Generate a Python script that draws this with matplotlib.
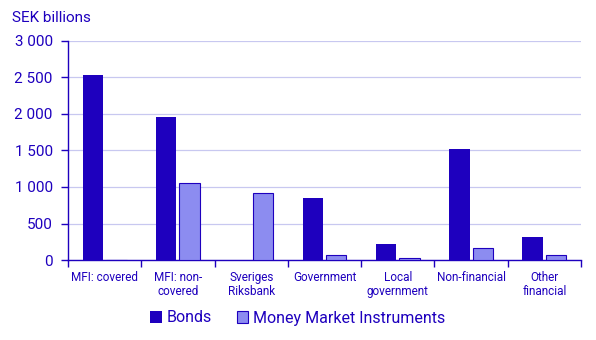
import numpy as np
import matplotlib.pyplot as plt
from matplotlib.ticker import FuncFormatter

plt.rcParams['font.family'] = ['Roboto', 'DejaVu Sans']

categories = ["MFI: covered", "MFI: non-\ncovered", "Sveriges\nRiksbank", "Government",
              "Local\ngovernment", "Non-financial", "Other\nfinancial"]
bonds = [2534, 1959, 0, 849, 219, 1521, 315]
mmi = [0, 1055, 918, 68, 27, 164, 68]

dark = "#1E00BE"
light = "#8C8CF0"
txt = "#1E00BE"

fig = plt.figure(figsize=(5.96, 3.40), dpi=100)
ax = fig.add_axes([68/596, 1-260/340, 513/596, 219/340])

x = np.arange(len(categories))
w = 0.28
ax.bar(x - 0.16, bonds, w, color=dark, label="Bonds", zorder=3)
ax.bar(x + 0.16, mmi, w, color=light, edgecolor=dark, linewidth=0.8,
       label="Money Market Instruments", zorder=3)

ax.set_xlim(-0.5, len(categories) - 0.5)
ax.set_ylim(0, 3000)
ax.set_yticks(np.arange(0, 3001, 500))
ax.yaxis.set_major_formatter(FuncFormatter(lambda v, p: f"{int(v):,}".replace(",", " ")))
ax.grid(axis='y', color="#C8C8F0", linewidth=0.9, zorder=0)

ax.set_xticks(x)
ax.set_xticklabels(categories, fontsize=8.5, color=txt, linespacing=1.05)
ax.set_xticks(np.arange(-0.5, len(categories)), minor=True)
ax.tick_params(axis='x', which='major', length=0, pad=8)
ax.tick_params(axis='x', which='minor', length=5, color=dark, width=1)
ax.tick_params(axis='y', length=5, color=dark, width=1, labelsize=11, labelcolor=txt, pad=6)

for s in ['top', 'right']:
    ax.spines[s].set_visible(False)
for s in ['left', 'bottom']:
    ax.spines[s].set_color(dark)
    ax.spines[s].set_linewidth(1)

fig.text(12/596, 1-18/340, "SEK billions", fontsize=11, color=txt, va='center')

fig.legend(loc='center', bbox_to_anchor=(0.5, 1-318/340), ncol=2, frameon=False,
           fontsize=11.5, labelcolor=txt, handlelength=0.7, handleheight=0.7,
           handletextpad=0.3, columnspacing=1.6)

fig.savefig("out.png", dpi=100)
